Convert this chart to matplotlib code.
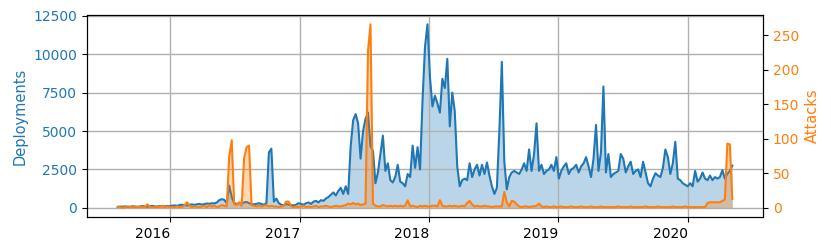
import numpy as np
import pandas as pd
import matplotlib
matplotlib.use("Agg")
import matplotlib.pyplot as plt
import matplotlib.dates as mdates

# weekly counts
weeks = pd.date_range("2015-08-05", periods=249, freq="7D")

deployments = [
    60, 80, 70, 90, 60, 70, 100, 80, 60, 90,
    110, 80, 70, 100, 120, 90, 80, 110, 100, 90,
    120, 100, 140, 150, 130, 180, 200, 160, 150, 200,
    220, 190, 230, 250, 210, 240, 280, 260, 300, 280,
    350, 500, 560, 520, 300, 1450, 700, 300, 250, 300,
    280, 350, 380, 300, 250, 220, 260, 300, 250, 200,
    300, 3600, 3850, 400, 600, 300, 200, 150, 250, 200,
    180, 150, 200, 300, 250, 200, 300, 350, 250, 400,
    450, 350, 500, 450, 600, 700, 850, 1000, 800, 1100,
    1300, 900, 1400, 900, 4000, 5700, 6100, 5500, 3200, 5000,
    5800, 6200, 4000, 3700, 1600, 2300, 3500, 4700, 2400, 2900,
    1800, 1650, 2000, 2800, 1700, 1600, 1400, 2200, 2000, 4050,
    2600, 3950, 2500, 7000, 10500, 11950, 8500, 6600, 7300, 6800,
    6200, 8400, 7800, 9700, 5300, 7500, 6300, 2700, 1400, 1800,
    1900, 1800, 2900, 2000, 2500, 2800, 2100, 2800, 2200, 2950,
    2100, 1400, 900, 1300, 5000, 9500, 3000, 1200, 2000, 2300,
    2400, 2300, 2200, 2500, 2900, 2400, 3800, 2400, 3500, 5500,
    2400, 2800, 2200, 2400, 2500, 2800, 2400, 3300, 1900, 2400,
    2700, 2900, 2200, 2500, 2600, 2800, 2300, 2700, 2900, 3300,
    2700, 2000, 3200, 5400, 2400, 3600, 7900, 2300, 3500, 2000,
    2200, 2300, 2400, 3500, 3200, 2300, 2700, 3000, 2200, 2400,
    2500, 2000, 3000, 2300, 1600, 1400, 1900, 2250, 2100, 2000,
    2600, 3800, 3300, 2200, 2900, 4300, 1900, 1800, 1600, 1500,
    1400, 1600, 1400, 2400, 1700, 1900, 2300, 1900, 1800, 2100,
    1800, 2000, 1900, 2000, 2450, 1900, 2200, 2400, 2750,
]

attacks = [
    1, 1, 0, 1, 2, 1, 1, 2, 1, 2,
    1, 1, 5, 1, 1, 1, 2, 1, 3, 1,
    2, 1, 1, 1, 2, 1, 1, 4, 8, 3,
    1, 2, 1, 1, 2, 3, 1, 4, 2, 3,
    1, 2, 4, 3, 2, 75, 98, 5, 4, 8,
    3, 72, 88, 90, 4, 3, 2, 3, 2, 3,
    4, 2, 3, 2, 2, 1, 2, 3, 9, 9,
    2, 1, 2, 1, 2, 3, 1, 2, 1, 2,
    3, 1, 2, 2, 3, 2, 1, 2, 3, 2,
    2, 3, 4, 6, 5, 7, 5, 6, 4, 5,
    6, 228, 266, 6, 3, 2, 2, 4, 3, 2,
    3, 2, 3, 2, 3, 2, 3, 11, 2, 3,
    2, 1, 3, 2, 3, 2, 2, 3, 3, 2,
    11, 3, 2, 2, 3, 2, 3, 2, 2, 3,
    2, 7, 10, 5, 2, 3, 2, 2, 3, 2,
    2, 1, 2, 2, 2, 2, 23, 8, 2, 10,
    9, 5, 2, 1, 2, 2, 1, 2, 2, 3,
    6, 2, 1, 2, 1, 1, 2, 1, 1, 2,
    1, 1, 1, 2, 1, 1, 1, 2, 1, 1,
    1, 2, 1, 1, 1, 2, 1, 1, 1, 1,
    1, 1, 2, 1, 1, 1, 1, 2, 1, 1,
    1, 1, 1, 2, 1, 1, 1, 1, 2, 1,
    1, 1, 1, 1, 2, 1, 1, 1, 1, 2,
    1, 1, 1, 1, 1, 1, 1, 1, 7, 8,
    8, 8, 8, 8, 10, 12, 93, 92, 13,
]

fig = plt.figure(figsize=(8.31, 2.52), dpi=100)
ax1 = fig.add_axes([0.1047, 0.139, 0.8135, 0.801])
ax2 = ax1.twinx()

ax1.plot(weeks, deployments, color="C0", lw=1.5)
ax1.fill_between(weeks, deployments, color="C0", alpha=0.3, lw=0)
ax2.plot(weeks, attacks, color="C1", lw=1.5)
ax2.fill_between(weeks, attacks, color="C1", alpha=0.3, lw=0)

ax1.set_ylabel("Deployments", color="C0", fontsize=10.5)
ax2.set_ylabel("Attacks", color="C1", fontsize=10.5)
ax1.tick_params(axis="y", labelcolor="C0", labelsize=10)
ax2.tick_params(axis="y", labelcolor="C1", labelsize=10)
ax1.tick_params(axis="x", labelsize=10)
ax1.set_yticks([0, 2500, 5000, 7500, 10000, 12500])
ax1.xaxis.set_major_locator(mdates.YearLocator())
ax1.xaxis.set_major_formatter(mdates.DateFormatter("%Y"))
for lbl in ax1.get_xticklabels():
    lbl.set_ha("right")
ax1.grid(True, color="#b0b0b0", lw=1)

fig.savefig("out.png", dpi=100)
